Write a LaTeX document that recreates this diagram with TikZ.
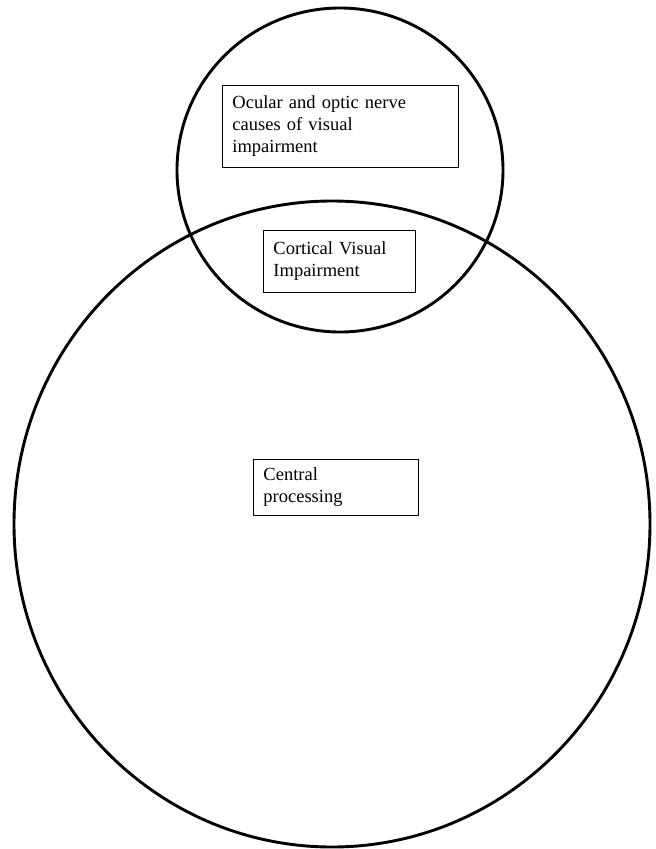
\documentclass[tikz,border=0pt]{standalone}
\usepackage{fontspec}
\setmainfont{Liberation Serif}
\tikzset{
  ring/.style={line width=2.9pt},
  labelbox/.style={draw,line width=0.9pt,anchor=north west,align=left,
    inner xsep=10pt,inner ysep=5pt,font=\fontsize{18.5}{22}\selectfont}
}
\begin{document}
\begin{tikzpicture}[x=1pt,y=-1pt]
    \useasboundingbox (0,0) rectangle (656,849);
    \draw[ring] (340,170) ellipse (163 and 162);
    \draw[ring] (332,524) ellipse (318 and 323);
    \node[labelbox,text width=216pt,minimum width=236pt,minimum height=82pt] (ocular) at (222,85)
      {Ocular and optic nerve\\causes of visual\\impairment};
    \node[labelbox,text width=132pt,minimum width=152pt,minimum height=62pt] (cvi) at (263,230)
      {Cortical Visual\\Impairment};
    \node[labelbox,text width=145pt,minimum width=165pt,minimum height=56pt] (central) at (253,459)
      {Central\\processing};
\end{tikzpicture}
\end{document}
